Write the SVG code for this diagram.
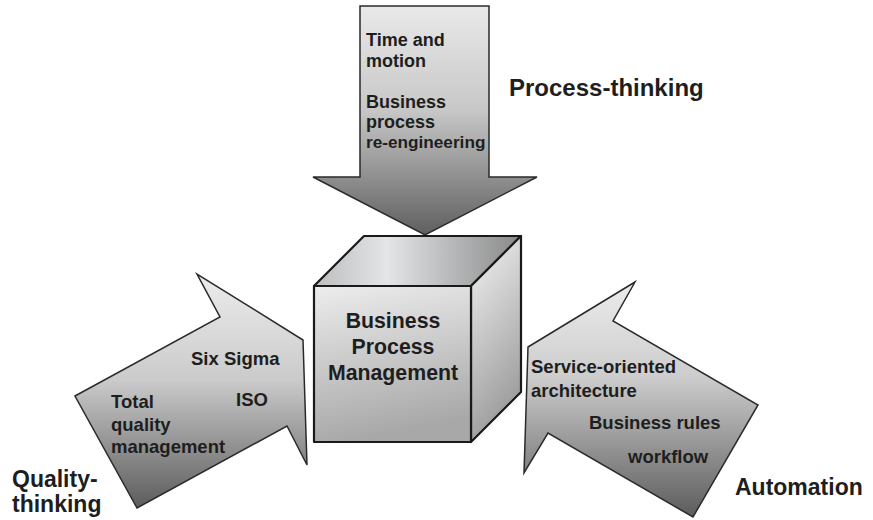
<svg xmlns="http://www.w3.org/2000/svg" width="873" height="520" viewBox="0 0 873 520">
<defs>
<linearGradient id="gTop" x1="0" y1="0" x2="0" y2="1"><stop offset="0" stop-color="#e9e9e9"/><stop offset="0.45" stop-color="#c8c8c8"/><stop offset="1" stop-color="#5f5f5f"/></linearGradient>
<linearGradient id="gLeft" x1="0" y1="0" x2="0" y2="1"><stop offset="0" stop-color="#ececec"/><stop offset="0.45" stop-color="#cbcbcb"/><stop offset="1" stop-color="#5c5c5c"/></linearGradient>
<linearGradient id="gRight" x1="0" y1="0" x2="0" y2="1"><stop offset="0" stop-color="#ececec"/><stop offset="0.4" stop-color="#cdcdcd"/><stop offset="1" stop-color="#5c5c5c"/></linearGradient>
<linearGradient id="gFront" x1="0" y1="0" x2="0.2" y2="1"><stop offset="0" stop-color="#ededed"/><stop offset="1" stop-color="#a8a8a8"/></linearGradient>
<linearGradient id="gCubeTop" x1="0" y1="0" x2="1" y2="0"><stop offset="0" stop-color="#bcbcbc"/><stop offset="0.35" stop-color="#e3e5e7"/><stop offset="1" stop-color="#898989"/></linearGradient>
<linearGradient id="gSide" x1="0" y1="0" x2="0.3" y2="1"><stop offset="0" stop-color="#f4f4f4"/><stop offset="1" stop-color="#9c9c9c"/></linearGradient>
</defs>
<style>
.arrow{stroke:#2a2a2a;stroke-width:1.5;stroke-linejoin:miter}
.face{stroke:#1a1a1a;stroke-width:2.2;stroke-linejoin:round}
.t{font-family:"Liberation Sans",Arial,sans-serif;font-weight:bold;fill:#1e1e1e}
.s{font-size:18.5px}
.m{font-size:18px}
.c{font-size:21.3px;text-anchor:middle}
.l{font-size:23px}
</style>
<g id="connectors">
<g id="arrow-process">
<polygon class="arrow" fill="url(#gTop)" points="360,6 489,6 489,177 537,177 425,235 313,177 360,177"/>
</g>
<g id="arrow-quality">
<polygon class="arrow" fill="url(#gLeft)" points="75,396 220,317 197,274 303,340 307,465 287,426 137,508"/>
</g>
<g id="arrow-automation">
<polygon class="arrow" fill="url(#gRight)" points="528,347 635,282 613,321 758,405 693,517 548,433 524,473"/>
</g>
</g>
<g id="cube">
<polygon class="face" fill="url(#gCubeTop)" points="314,286 364,236 521,236 471,286"/>
<polygon class="face" fill="url(#gSide)" points="471,286 521,236 521,392 471,442"/>
<rect class="face" fill="url(#gFront)" x="314" y="286" width="157" height="156"/>
<text class="t c" x="393" y="328">Business</text>
<text class="t c" x="393" y="354">Process</text>
<text class="t c" x="393" y="380">Management</text>
</g>
<g id="process-texts">
<text class="t m" x="366" y="46">Time and</text>
<text class="t m" x="366" y="67">motion</text>
<text class="t m" x="366" y="108">Business</text>
<text class="t m" x="366" y="128">process</text>
<text class="t m" x="366" y="148" style="font-size:17.2px">re-engineering</text>
</g>
<g id="quality-texts">
<text class="t s" x="191" y="365">Six Sigma</text>
<text class="t s" x="236" y="406">ISO</text>
<text class="t s" x="111" y="408">Total</text>
<text class="t s" x="111" y="431">quality</text>
<text class="t s" x="111" y="453">management</text>
</g>
<g id="automation-texts">
<text class="t s" x="531" y="373">Service-oriented</text>
<text class="t s" x="531" y="397">architecture</text>
<text class="t s" x="589" y="429">Business rules</text>
<text class="t s" x="628" y="463">workflow</text>
</g>
<g id="labels">
<text class="t l" x="509" y="96" style="font-size:24px">Process-thinking</text>
<text class="t l" x="12" y="487">Quality-</text>
<text class="t l" x="12" y="512">thinking</text>
<text class="t l" x="735" y="495">Automation</text>
</g>
</svg>
